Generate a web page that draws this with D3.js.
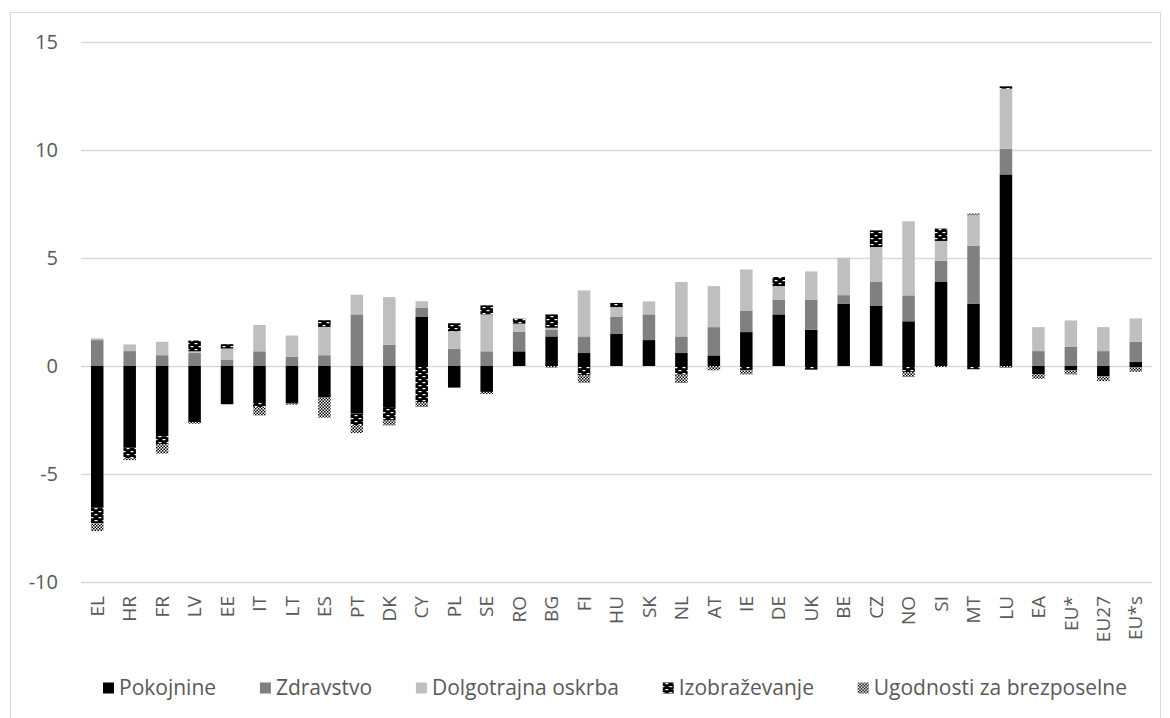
<!DOCTYPE html>
<html>
<head>
<meta charset="utf-8">
<script src="https://cdn.jsdelivr.net/npm/d3@7"></script>
<style>
  body { margin: 0; background: #fff; }
  svg { font-family: "Open Sans", "Noto Sans", sans-serif; }
</style>
</head>
<body>
<div class="container"></div>
<script>
const WIDTH = 1170;
const HEIGHT = 718;

const categories = ["EL","HR","FR","LV","EE","IT","LT","ES","PT","DK","CY","PL","SE","RO","BG","FI","HU","SK","NL","AT","IE","DE","UK","BE","CZ","NO","SI","MT","LU","EA","EU*","EU27","EU*s"];
const seriesNames = ["Pokojnine","Zdravstvo","Dolgotrajna oskrba","Izobraževanje","Ugodnosti za brezposelne"];

const pokojnine   = [-6.56,-3.78,-3.25,-2.59,-1.77,-1.71,-1.74,-1.46,-2.2,-1.9,2.27,-1.0,-1.2,0.68,1.37,0.6,1.48,1.2,0.6,0.49,1.57,2.39,1.68,2.89,2.78,2.07,3.89,2.89,8.87,-0.39,-0.2,-0.48,0.19];
const zdravstvo   = [1.2,0.69,0.5,0.6,0.3,0.68,0.42,0.5,2.39,0.99,0.42,0.8,0.68,0.9,0.32,0.77,0.79,1.19,0.77,1.31,1.0,0.69,1.4,0.39,1.11,1.2,0.97,2.67,1.19,0.69,0.88,0.69,0.93];
const dolgotrajna = [0.08,0.31,0.62,0.08,0.51,1.22,0.99,1.31,0.91,2.2,0.31,0.81,1.71,0.38,0.08,2.13,0.46,0.6,2.52,1.9,1.9,0.62,1.3,1.73,1.62,3.43,0.93,1.42,2.78,1.11,1.23,1.11,1.08];
const izobrazevanje = [-0.73,-0.5,-0.37,0.5,0.2,-0.19,0,0.31,-0.54,-0.62,-1.67,0.37,0.42,0.23,0.62,-0.43,0.19,0,-0.4,0,-0.2,0.42,-0.17,0,0.77,-0.28,0.57,-0.15,0.11,0,0,0,-0.05];
const ugodnosti   = [-0.35,-0.08,-0.43,-0.08,0,-0.39,-0.05,-0.93,-0.36,-0.23,-0.23,0,-0.1,0,-0.08,-0.35,0,0,-0.39,-0.2,-0.19,0,0,0,0,-0.23,-0.05,0.08,-0.09,-0.2,-0.19,-0.22,-0.22];
const yTicks = [-10,-5,0,5,10,15];

const fills = ["#000000","#808080","#bfbfbf","url(#pat-izo)","url(#pat-ugo)"];

var rows = categories.map(function(c, i) {
    return {
        cat: c,
        "Pokojnine": pokojnine[i],
        "Zdravstvo": zdravstvo[i],
        "Dolgotrajna oskrba": dolgotrajna[i],
        "Izobraževanje": izobrazevanje[i],
        "Ugodnosti za brezposelne": ugodnosti[i]
    };
});

var svg = d3.select('.container').append('svg')
    .attr('width', WIDTH)
    .attr('height', HEIGHT);

// patterns
var defs = svg.append('defs');
var pIzo = defs.append('pattern')
    .attr('id', 'pat-izo')
    .attr('patternUnits', 'userSpaceOnUse')
    .attr('width', 8).attr('height', 6);
pIzo.append('rect').attr('width', 8).attr('height', 6).attr('fill', '#000');
pIzo.append('rect').attr('x', 2.5).attr('y', 1).attr('width', 3).attr('height', 1.2).attr('fill', '#fff');
pIzo.append('rect').attr('x', -1.5).attr('y', 4).attr('width', 3).attr('height', 1.2).attr('fill', '#fff');
pIzo.append('rect').attr('x', 6.5).attr('y', 4).attr('width', 3).attr('height', 1.2).attr('fill', '#fff');

var pUgo = defs.append('pattern')
    .attr('id', 'pat-ugo')
    .attr('patternUnits', 'userSpaceOnUse')
    .attr('width', 3).attr('height', 3);
pUgo.append('rect').attr('width', 3).attr('height', 3).attr('fill', '#fff');
pUgo.append('rect').attr('width', 1.5).attr('height', 1.5).attr('fill', '#000');
pUgo.append('rect').attr('x', 1.5).attr('y', 1.5).attr('width', 1.5).attr('height', 1.5).attr('fill', '#000');

// chart frame
svg.append('rect')
    .attr('x', 10.5).attr('y', 12.5)
    .attr('width', 1150).attr('height', 720)
    .attr('fill', 'none')
    .attr('stroke', '#d9d9d9');

var xScale = d3.scaleBand().domain(categories).range([81, 1152]).paddingInner(0.615).paddingOuter(0.3075);
var yScale = d3.scaleLinear().domain([-10, 15]).range([582, 42]);

// gridlines
svg.append('g')
    .selectAll('line')
    .data(yTicks)
    .enter().append('line')
    .attr('x1', 81).attr('x2', 1152)
    .attr('y1', function(d) { return Math.round(yScale(d)) + 0.5; })
    .attr('y2', function(d) { return Math.round(yScale(d)) + 0.5; })
    .attr('stroke', '#d9d9d9')
    .attr('stroke-width', 1.3);

// y axis labels
var yAxis = d3.axisLeft(yScale).tickValues(yTicks).tickSize(0).tickPadding(23)
    .tickFormat(function(d) { return d3.format("d")(d).replace("−", "-"); });
var yg = svg.append('g')
    .attr('transform', 'translate(81,0)')
    .call(yAxis);
yg.select('.domain').remove();
yg.selectAll('text').attr('fill', '#595959').style('font-size', '20px').style('font-family', '"Open Sans", sans-serif');

// stacked bars
var stack = d3.stack().keys(seriesNames).offset(d3.stackOffsetDiverging);
var layers = stack(rows);

svg.append('g')
    .selectAll('g')
    .data(layers)
    .enter().append('g')
    .attr('fill', function(d, i) { return fills[i]; })
    .selectAll('rect')
    .data(function(d) { return d; })
    .enter().append('rect')
    .attr('x', function(d) { return xScale(d.data.cat); })
    .attr('width', xScale.bandwidth())
    .attr('y', function(d) { return yScale(Math.max(d[0], d[1])); })
    .attr('height', function(d) { return Math.abs(yScale(d[0]) - yScale(d[1])); });

// x axis labels
var xAxis = d3.axisBottom(xScale).tickSize(0).tickPadding(0);
var xg = svg.append('g')
    .attr('transform', 'translate(0,596)')
    .call(xAxis);
xg.select('.domain').remove();
xg.selectAll('text')
    .attr('fill', '#595959')
    .style('font-size', '19px')
    .style('font-family', '"Open Sans", sans-serif')
    .attr('text-anchor', 'end')
    .attr('dy', '0.35em')
    .attr('transform', 'rotate(-90)')
    .attr('x', 0).attr('y', 0);

// legend
var legend = svg.append('g').attr('class', 'legend');
var items = legend.selectAll('g')
    .data(seriesNames)
    .enter().append('g');
items.append('rect')
    .attr('width', 11).attr('height', 11)
    .attr('y', -5.5)
    .attr('fill', function(d, i) { return fills[i]; });
items.append('text')
    .attr('x', 16)
    .attr('dy', '0.35em')
    .attr('fill', '#595959')
    .style('font-size', '21px')
    .text(function(d) { return d; });

var widths = [];
items.each(function() {
    widths.push(16 + d3.select(this).select('text').node().getComputedTextLength());
});
var legendLeft = 103, legendRight = 1127;
var gap = (legendRight - legendLeft - d3.sum(widths)) / (widths.length - 1);
var offsets = [], acc = legendLeft;
widths.forEach(function(w) { offsets.push(acc); acc += w + gap; });
items.attr('transform', function(d, i) { return 'translate(' + offsets[i] + ',688)'; });
</script>
</body>
</html>
